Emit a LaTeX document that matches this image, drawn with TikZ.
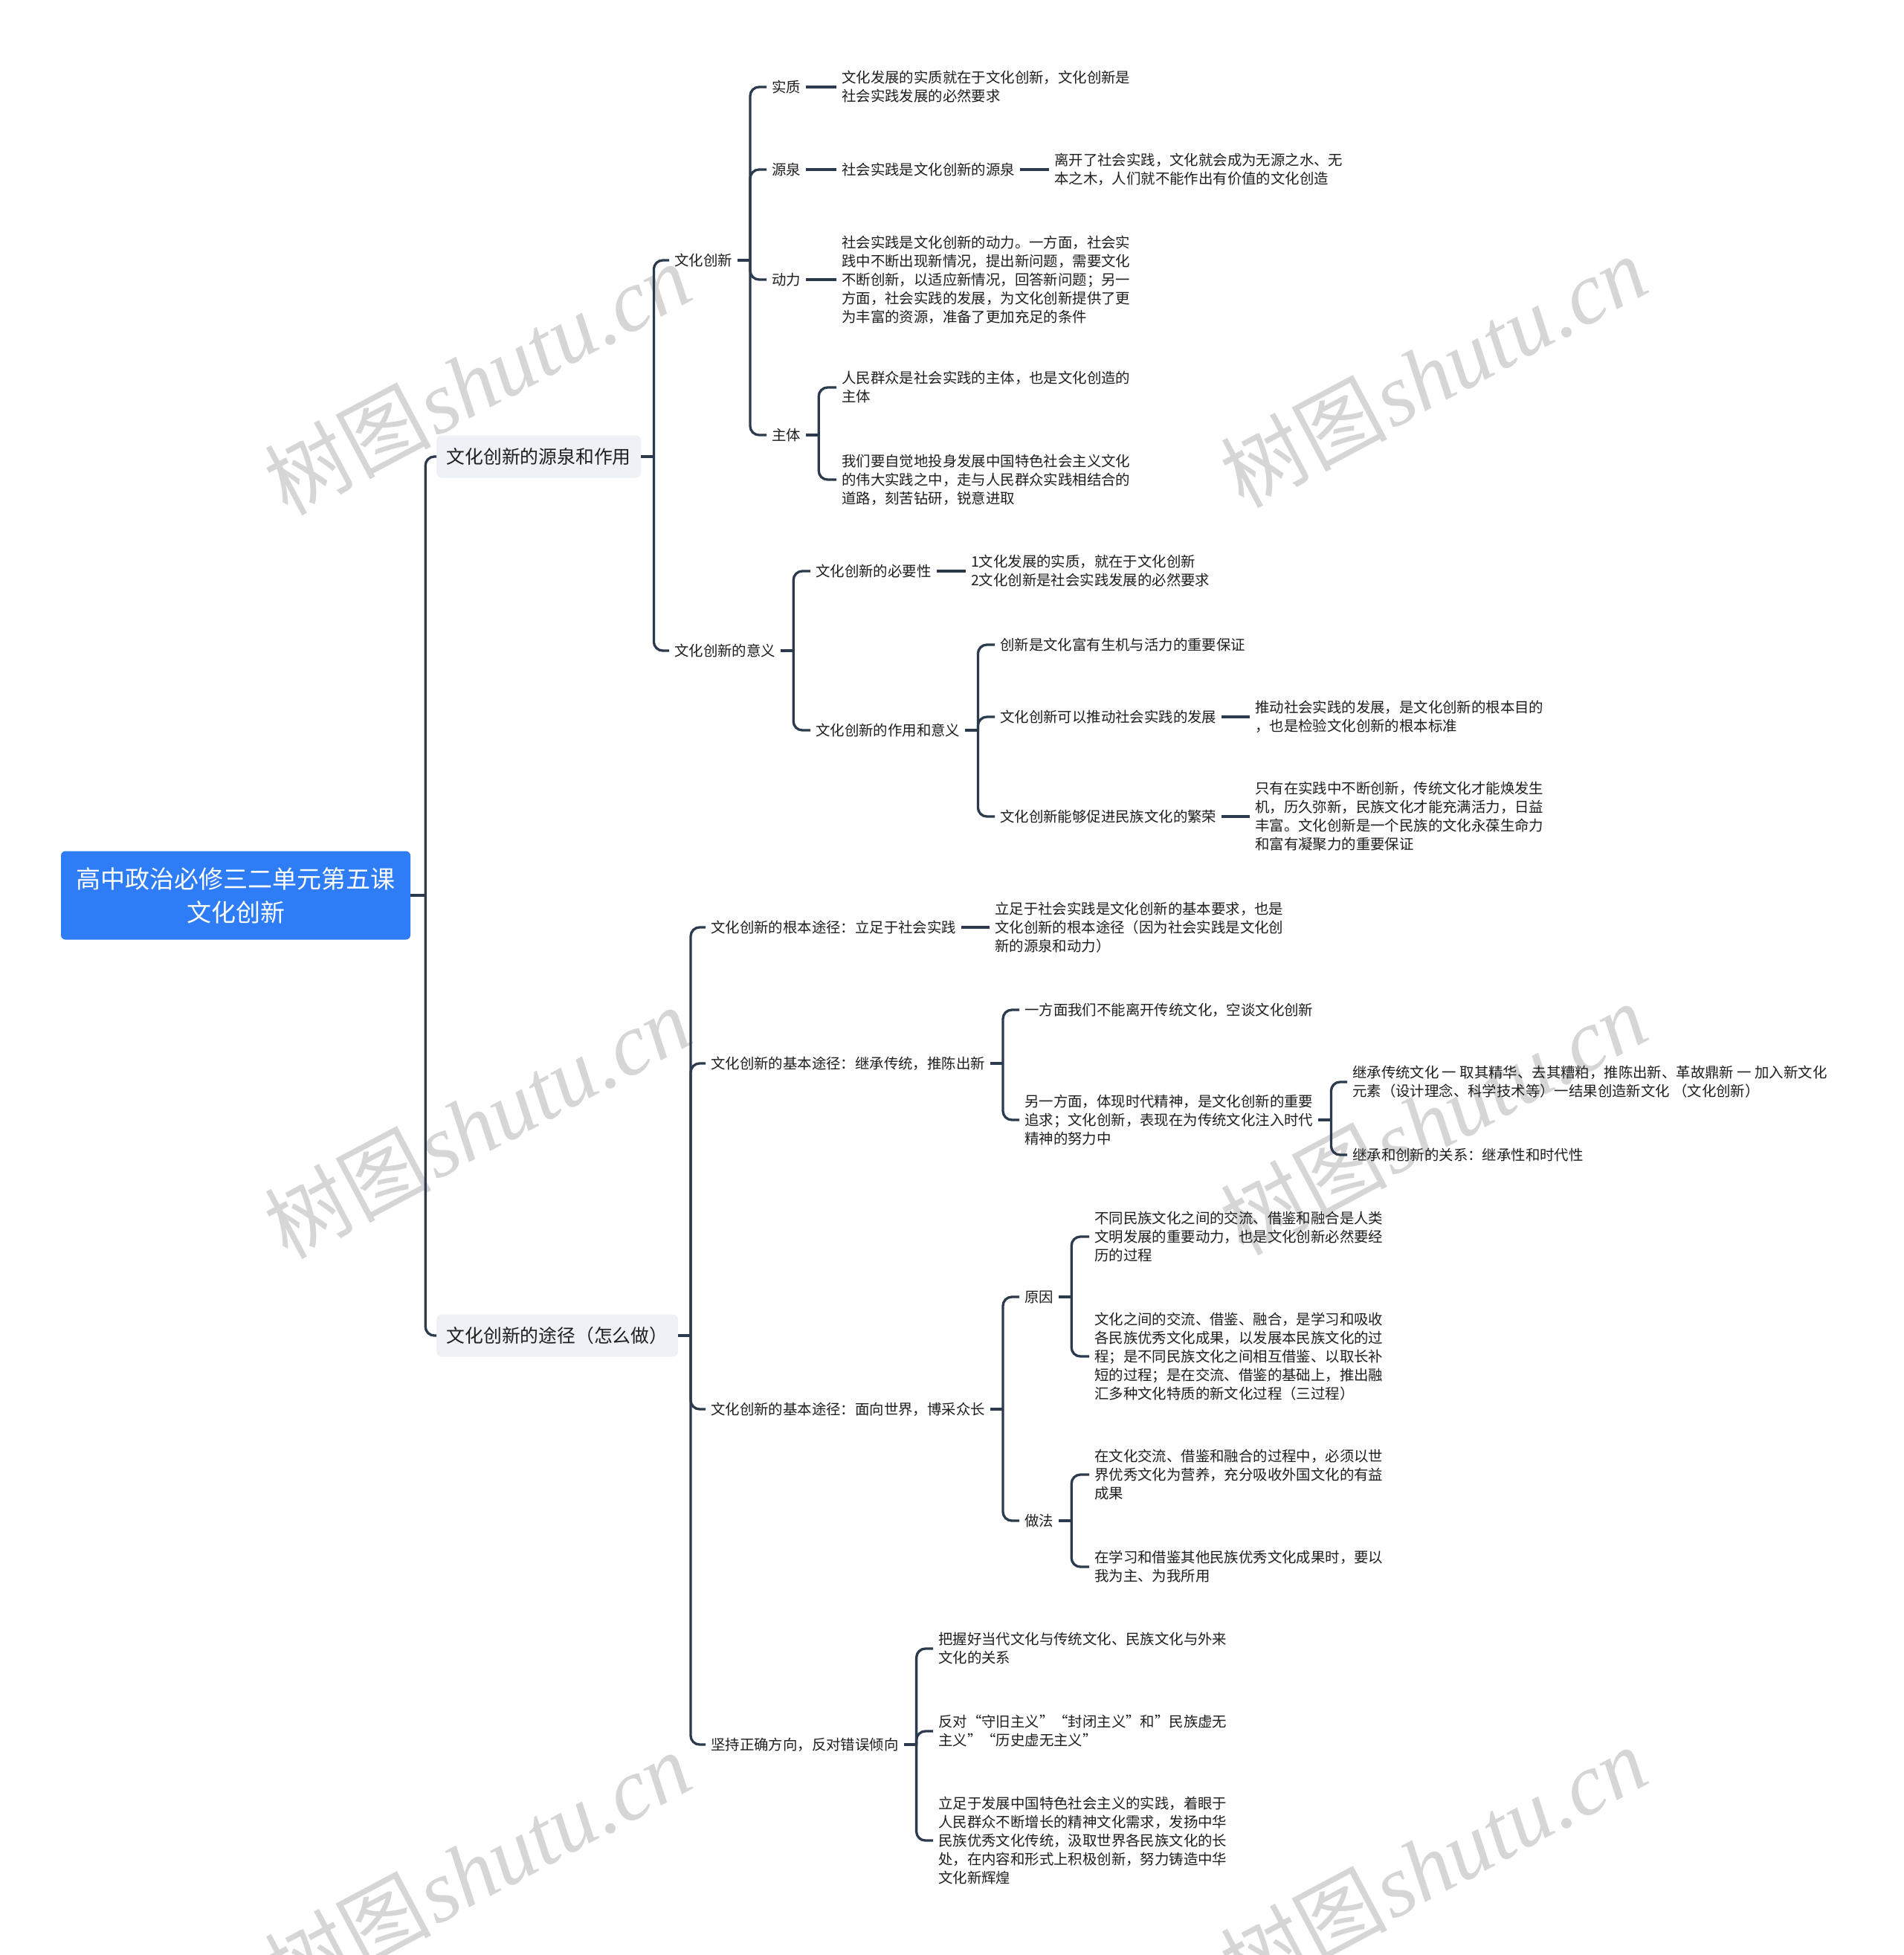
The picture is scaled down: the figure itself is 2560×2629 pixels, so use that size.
\documentclass[tikz,border=0pt]{standalone}
\usepackage{fontspec}
\newfontfamily\cjk{Noto Sans CJK SC}
\newfontfamily\wmlat{Liberation Serif}
\usetikzlibrary{calc}
\definecolor{txtc}{HTML}{1E1E1E}
\definecolor{linec}{HTML}{2C3A4E}
\definecolor{boxc}{HTML}{EEF1F5}
\definecolor{rootc}{HTML}{2F7DF6}
\definecolor{wmc}{HTML}{D6D6D6}
\tikzset{
  txt/.style={anchor=west, inner xsep=7pt, inner ysep=3pt, align=left, text=txtc, font=\cjk\fontsize{19.4pt}{25pt}\selectfont},
  lone/.style={anchor=west, fill=boxc, rounded corners=7pt, minimum height=57pt, inner xsep=13.5pt, text=txtc, font=\cjk\fontsize{24.8pt}{30pt}\selectfont},
  rootbox/.style={fill=rootc, rounded corners=6pt, minimum width=470pt, minimum height=119pt, align=center, text=white, inner sep=0pt, font=\cjk\fontsize{33pt}{45pt}\selectfont},
  con/.style={draw=linec, line width=3.3pt, rounded corners=12pt},
  wm/.style={rotate=28, text=wmc, inner sep=0pt},
}
\begin{document}
\begin{tikzpicture}[x=1pt,y=-1pt]
\useasboundingbox[fill=white] (0,0) rectangle (2560,2629);
% watermarks
\foreach \i/\x/\y in {1/642/510, 2/1928/500, 3/642/1510, 4/1928/1505, 5/642/2512, 6/1928/2505}{
  \node[wm] (wm\i) at (\x,\y) {{\cjk\fontsize{112pt}{112pt}\selectfont 树图} {\wmlat\itshape\fontsize{118pt}{118pt}\selectfont shutu.cn}};
}
% root and level 1
\node[rootbox] (root) at (317,1204) {高中政治必修三二单元第五课\\文化创新};
\node[lone] (A) at (587,614) {文化创新的源泉和作用};
\node[lone] (B) at (587,1796) {文化创新的途径（怎么做）};
\draw[con] (root.east) -- ++(20,0) coordinate (rs);
\draw[con] (rs) |- (A.west);
\draw[con] (rs) |- (B.west);

% ---- A branch
\node[txt] (wh) at (900,350) {文化创新};
\node[txt] (yy) at (900,875) {文化创新的意义};
\draw[con] (A.east) -- ++(17,0) coordinate (As);
\foreach \c in {wh,yy} \draw[con] (As) |- (\c.west);

\node[txt] (sz) at (1031,117) {实质};
\node[txt] (szT) at (1125,117) {文化发展的实质就在于文化创新，文化创新是\\社会实践发展的必然要求};
\node[txt] (yq) at (1031,228) {源泉};
\node[txt] (yqT) at (1125,228) {社会实践是文化创新的源泉};
\node[txt] (yqT2) at (1411,228) {离开了社会实践，文化就会成为无源之水、无\\本之木，人们就不能作出有价值的文化创造};
\node[txt] (dl) at (1031,376) {动力};
\node[txt] (dlT) at (1125,376) {社会实践是文化创新的动力。一方面，社会实\\践中不断出现新情况，提出新问题，需要文化\\不断创新，以适应新情况，回答新问题；另一\\方面，社会实践的发展，为文化创新提供了更\\为丰富的资源，准备了更加充足的条件};
\node[txt] (zt) at (1031,585) {主体};
\node[txt] (zt1) at (1125,521) {人民群众是社会实践的主体，也是文化创造的\\主体};
\node[txt] (zt2) at (1125,645) {我们要自觉地投身发展中国特色社会主义文化\\的伟大实践之中，走与人民群众实践相结合的\\道路，刻苦钻研，锐意进取};
\draw[con] (wh.east) -- ++(17,0) coordinate (whs);
\foreach \c in {sz,yq,dl,zt} \draw[con] (whs) |- (\c.west);
\draw[con] (sz.east) -- (szT.west);
\draw[con] (yq.east) -- (yqT.west);
\draw[con] (yqT.east) -- (yqT2.west);
\draw[con] (dl.east) -- (dlT.west);
\draw[con] (zt.east) -- ++(17,0) coordinate (zts);
\foreach \c in {zt1,zt2} \draw[con] (zts) |- (\c.west);

\node[txt] (byx) at (1090,768) {文化创新的必要性};
\node[txt] (byxT) at (1299,768) {1文化发展的实质，就在于文化创新\\2文化创新是社会实践发展的必然要求};
\node[txt] (zy) at (1090,982) {文化创新的作用和意义};
\node[txt] (c1) at (1338,867) {创新是文化富有生机与活力的重要保证};
\node[txt] (c2) at (1338,964) {文化创新可以推动社会实践的发展};
\node[txt] (c2T) at (1681,964) {推动社会实践的发展，是文化创新的根本目的\\，也是检验文化创新的根本标准};
\node[txt] (c3) at (1338,1098) {文化创新能够促进民族文化的繁荣};
\node[txt] (c3T) at (1681,1098) {只有在实践中不断创新，传统文化才能焕发生\\机，历久弥新，民族文化才能充满活力，日益\\丰富。文化创新是一个民族的文化永葆生命力\\和富有凝聚力的重要保证};
\draw[con] (yy.east) -- ++(17,0) coordinate (yys);
\foreach \c in {byx,zy} \draw[con] (yys) |- (\c.west);
\draw[con] (byx.east) -- (byxT.west);
\draw[con] (zy.east) -- ++(17,0) coordinate (zys);
\foreach \c in {c1,c2,c3} \draw[con] (zys) |- (\c.west);
\draw[con] (c2.east) -- (c2T.west);
\draw[con] (c3.east) -- (c3T.west);

% ---- B branch
\node[txt] (b1) at (949,1247) {文化创新的根本途径：立足于社会实践};
\node[txt] (b1T) at (1331,1247) {立足于社会实践是文化创新的基本要求，也是\\文化创新的根本途径（因为社会实践是文化创\\新的源泉和动力）};
\node[txt] (b2) at (949,1430) {文化创新的基本途径：继承传统，推陈出新};
\node[txt] (b21) at (1371,1358) {一方面我们不能离开传统文化，空谈文化创新};
\node[txt] (b22) at (1371,1506) {另一方面，体现时代精神，是文化创新的重要\\追求；文化创新，表现在为传统文化注入时代\\精神的努力中};
\node[txt] (b221) at (1812,1455) {继承传统文化 一 取其精华、去其糟粕，推陈出新、革故鼎新 一 加入新文化\\元素（设计理念、科学技术等）一结果创造新文化 （文化创新）};
\node[txt] (b222) at (1812,1553) {继承和创新的关系：继承性和时代性};
\node[txt] (b3) at (949,1895) {文化创新的基本途径：面向世界，博采众长};
\node[txt] (yin) at (1371,1744) {原因};
\node[txt] (yin1) at (1465,1663) {不同民族文化之间的交流、借鉴和融合是人类\\文明发展的重要动力，也是文化创新必然要经\\历的过程};
\node[txt] (yin2) at (1465,1824) {文化之间的交流、借鉴、融合，是学习和吸收\\各民族优秀文化成果，以发展本民族文化的过\\程；是不同民族文化之间相互借鉴、以取长补\\短的过程；是在交流、借鉴的基础上，推出融\\汇多种文化特质的新文化过程（三过程）};
\node[txt] (zf) at (1371,2045) {做法};
\node[txt] (zf1) at (1465,1983) {在文化交流、借鉴和融合的过程中，必须以世\\界优秀文化为营养，充分吸收外国文化的有益\\成果};
\node[txt] (zf2) at (1465,2107) {在学习和借鉴其他民族优秀文化成果时，要以\\我为主、为我所用};
\node[txt] (b4) at (949,2346) {坚持正确方向，反对错误倾向};
\node[txt] (b41) at (1255,2217) {把握好当代文化与传统文化、民族文化与外来\\文化的关系};
\node[txt] (b42) at (1255,2328) {反对“守旧主义”“封闭主义”和”民族虚无\\主义”“历史虚无主义”};
\node[txt] (b43) at (1255,2475) {立足于发展中国特色社会主义的实践，着眼于\\人民群众不断增长的精神文化需求，发扬中华\\民族优秀文化传统，汲取世界各民族文化的长\\处，在内容和形式上积极创新，努力铸造中华\\文化新辉煌};

\draw[con] (B.east) -- ++(17,0) coordinate (Bs);
\foreach \c in {b1,b2,b3,b4} \draw[con] (Bs) |- (\c.west);
\draw[con] (b1.east) -- (b1T.west);
\draw[con] (b2.east) -- ++(17,0) coordinate (b2s);
\foreach \c in {b21,b22} \draw[con] (b2s) |- (\c.west);
\draw[con] (b22.east) -- ++(17,0) coordinate (b22s);
\foreach \c in {b221,b222} \draw[con] (b22s) |- (\c.west);
\draw[con] (b3.east) -- ++(17,0) coordinate (b3s);
\foreach \c in {yin,zf} \draw[con] (b3s) |- (\c.west);
\draw[con] (yin.east) -- ++(17,0) coordinate (yins);
\foreach \c in {yin1,yin2} \draw[con] (yins) |- (\c.west);
\draw[con] (zf.east) -- ++(17,0) coordinate (zfs);
\foreach \c in {zf1,zf2} \draw[con] (zfs) |- (\c.west);
\draw[con] (b4.east) -- ++(17,0) coordinate (b4s);
\foreach \c in {b41,b42,b43} \draw[con] (b4s) |- (\c.west);
\end{tikzpicture}
\end{document}
